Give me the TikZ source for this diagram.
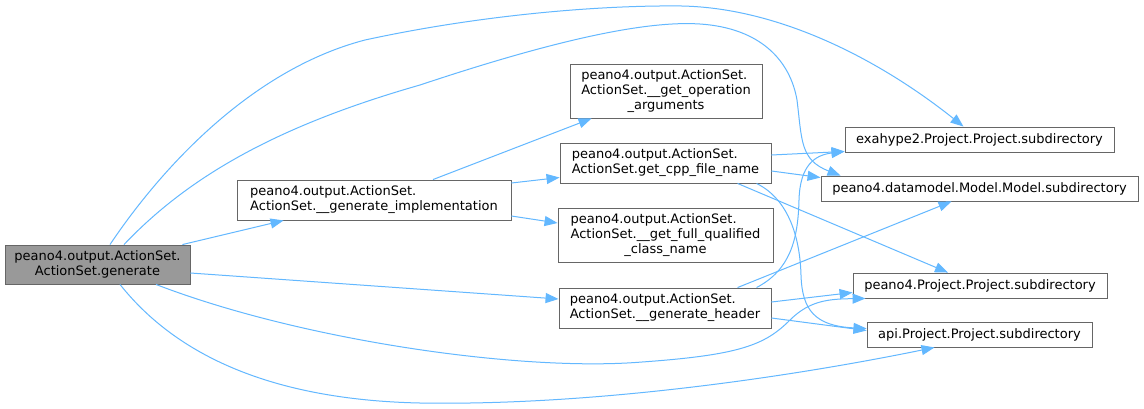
\documentclass[tikz,border=0pt]{standalone}
\usepackage{fontspec}
\setmainfont{DejaVu Sans}
\usepackage{tikz}
\usetikzlibrary{arrows.meta,positioning,calc}
\definecolor{CallEdge}{HTML}{63B8FF}
\definecolor{CallLine}{HTML}{666666}
\definecolor{CallRoot}{HTML}{999999}
\newcommand{\lastrow}[1]{\multicolumn{1}{@{}c@{}}{#1}}
\tikzset{
  calltext/.style={font=\fontsize{13}{15}\selectfont, text=black},
  callbox/.style={calltext, draw=CallLine, line width=0.9pt, fill=white, inner sep=0pt, align=left},
  rootbox/.style={callbox, fill=CallRoot, align=center},
  callarrow/.style={-{Triangle[length=13pt,width=10pt]}, line width=1pt, draw=CallEdge}
}

\begin{document}
\begin{tikzpicture}[x=1pt,y=-1pt]
\useasboundingbox[fill=white] (0,0) rectangle (1144,408);
\node[rootbox, minimum width=185pt, minimum height=39pt] (gen) at (97.5,264.5) {peano4.output.ActionSet.\\ActionSet.generate};
\node[callbox, minimum width=274pt, minimum height=40pt] (impl) at (374,200) {peano4.output.ActionSet.\\ActionSet.\_\_generate\_implementation};
\node[callbox, minimum width=192pt, minimum height=54pt] (getop) at (666,91) {\begin{tabular}{@{}l@{}}peano4.output.ActionSet.\\ActionSet.\_\_get\_operation\\\lastrow{\_arguments}\end{tabular}};
\node[callbox, minimum width=211pt, minimum height=40pt] (cpp) at (665.5,163) {peano4.output.ActionSet.\\ActionSet.get\_cpp\_file\_name};
\node[callbox, minimum width=215pt, minimum height=54pt] (full) at (665.5,235) {\begin{tabular}{@{}l@{}}peano4.output.ActionSet.\\ActionSet.\_\_get\_full\_qualified\\\lastrow{\_class\_name}\end{tabular}};
\node[callbox, minimum width=212pt, minimum height=40pt] (header) at (665,308) {peano4.output.ActionSet.\\ActionSet.\_\_generate\_header};
\node[callbox, minimum width=269pt, minimum height=25pt] (exa) at (979.5,139.5) {exahype2.Project.Project.subdirectory};
\node[callbox, minimum width=317pt, minimum height=25pt] (pdm) at (979.5,188.5) {peano4.datamodel.Model.Model.subdirectory};
\node[callbox, minimum width=254pt, minimum height=25pt] (p4) at (980,285.5) {peano4.Project.Project.subdirectory};
\node[callbox, minimum width=225pt, minimum height=25pt] (api) at (979.5,334.5) {api.Project.Project.subdirectory};
% calls of generate
\draw[callarrow] ([xshift=-8pt]gen.north east) -- ([xshift=47pt]impl.south west);
\draw[callarrow] ([yshift=-8.5pt]gen.east) -- ([yshift=9pt]header.west);
\draw[callarrow] ([xshift=12.5pt]gen.north) .. controls (160,170) and (250,70) .. (365,40) .. controls (480,15) and (600,5) .. (682,6) .. controls (780,8) and (880,60) .. ([xshift=-16pt]exa.north);
\draw[callarrow] ([xshift=26.5pt]gen.north) .. controls (190,175) and (280,125) .. (420,85) .. controls (540,45) and (640,20) .. (700,24) .. controls (760,28) and (790,60) .. (797,100) .. controls (802,140) and (800,160) .. ([xshift=20pt]pdm.north west);
\draw[callarrow] ([xshift=58.5pt]gen.south) .. controls (300,340) and (520,372) .. (642,362) .. controls (740,355) and (765,345) .. (790,320) .. controls (810,300) and (830,299) .. ([xshift=13pt]p4.south west);
\draw[callarrow] ([xshift=22.5pt]gen.south) .. controls (180,360) and (280,400) .. (420,403) .. controls (600,406) and (800,375) .. ([xshift=-45pt]api.south);
% calls of __generate_implementation
\draw[callarrow] ([xshift=59pt]impl.north) -- ([xshift=22pt]getop.south west);
\draw[callarrow] ([yshift=17pt]impl.east) -- ([yshift=-14.5pt]cpp.west);
\draw[callarrow] ([yshift=-16pt]impl.east) -- ([yshift=12pt]full.west);
% calls of get_cpp_file_name
\draw[callarrow] ([yshift=8pt]cpp.east) -- ([yshift=1pt]exa.south west);
\draw[callarrow] ([yshift=-8pt]cpp.east) -- ([yshift=-2pt]pdm.north west);
\draw[callarrow] ([xshift=178pt]cpp.south west) -- ([xshift=-32pt]p4.north);
\draw[callarrow] ([xshift=197pt]cpp.south west) .. controls (790,200) and (800,240) .. (801,275) .. controls (802,310) and (815,326) .. ([yshift=6pt]api.west);
% calls of __generate_header
\draw[callarrow] ([xshift=179pt]header.north west) -- ([xshift=-28pt]pdm.south);
\draw[callarrow] ([xshift=198pt]header.north west) .. controls (790,270) and (798,240) .. (799,200) .. controls (800,165) and (815,155) .. ([yshift=1pt]exa.south west);
\draw[callarrow] ([yshift=6pt]header.east) -- ([yshift=-7pt]p4.west);
\draw[callarrow] ([yshift=-10pt]header.east) -- ([yshift=4pt]api.west);
\end{tikzpicture}
\end{document}
